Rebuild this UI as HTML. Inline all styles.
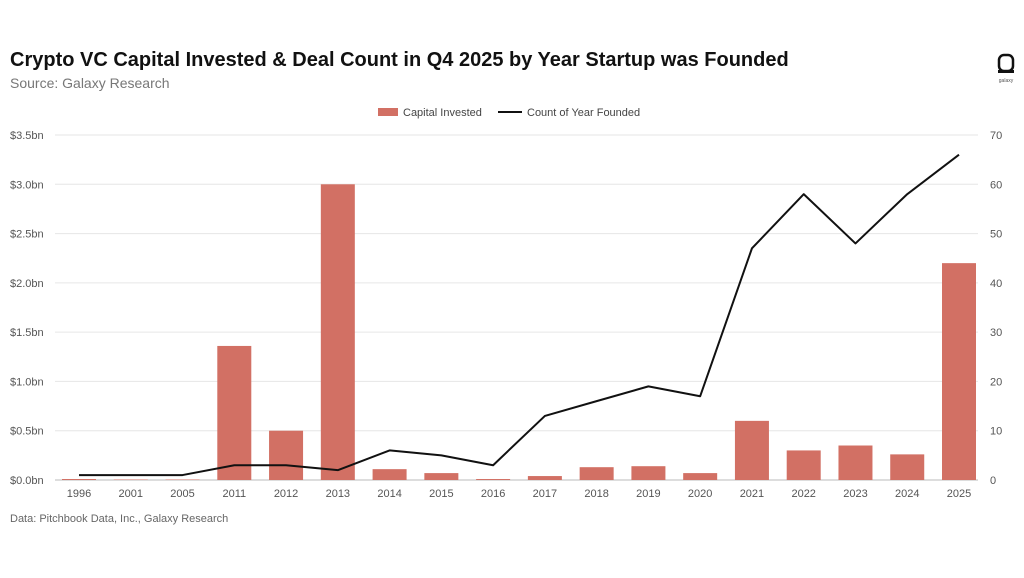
<!DOCTYPE html>
<html><head><meta charset="utf-8"><style>
body{margin:0;background:#fff;width:1024px;height:573px;overflow:hidden;font-family:"Liberation Sans",sans-serif}
</style></head><body>
<svg width="1024" height="573" xmlns="http://www.w3.org/2000/svg" id="chart">
<text x="10" y="66" font-size="20" font-weight="bold" fill="#111">Crypto VC Capital Invested &amp; Deal Count in Q4 2025 by Year Startup was Founded</text>
<text x="10" y="88" font-size="14" fill="#777">Source: Galaxy Research</text>
<g>
<rect x="999" y="55" width="14" height="16" rx="5" fill="none" stroke="#111" stroke-width="2.5"/>
<rect x="998" y="70" width="16" height="3" fill="#111"/>
<text x="1006" y="82" font-size="5" text-anchor="middle" fill="#555">galaxy</text>
</g>
<g>
<rect x="378" y="108" width="20" height="8" fill="#d27064"/>
<text x="403" y="116" font-size="11" fill="#444">Capital Invested</text>
<line x1="498" y1="112" x2="522" y2="112" stroke="#111" stroke-width="2"/>
<text x="527" y="116" font-size="11" fill="#444">Count of Year Founded</text>
</g>
<g id="grid"></g><g id="bars"></g><g id="line"></g><g id="axes"></g>
<text x="10" y="522" font-size="11" fill="#666">Data: Pitchbook Data, Inc., Galaxy Research</text>
</svg>
<script>
const categories=["1996","2001","2005","2011","2012","2013","2014","2015","2016","2017","2018","2019","2020","2021","2022","2023","2024","2025"];
const capital=[0.01,0.005,0.005,1.36,0.5,3.0,0.11,0.07,0.01,0.04,0.13,0.14,0.07,0.6,0.3,0.35,0.26,2.2];
const counts=[1,1,1,3,3,2,6,5,3,13,16,19,17,47,58,48,58,66];
const leftTicks=["$0.0bn","$0.5bn","$1.0bn","$1.5bn","$2.0bn","$2.5bn","$3.0bn","$3.5bn"];
const rightTicks=[0,10,20,30,40,50,60,70];
const NS="http://www.w3.org/2000/svg";
const x0=79,x1=959,yB=480,yT=135;
const xs=i=>x0+i*(x1-x0)/(categories.length-1);
const yL=v=>yB-v/3.5*(yB-yT);
const yR=v=>yB-v/70*(yB-yT);
function mk(t,a,p){const e=document.createElementNS(NS,t);for(const k in a)e.setAttribute(k,a[k]);p.appendChild(e);return e;}
const grid=document.getElementById('grid'),axes=document.getElementById('axes');
leftTicks.forEach((t,i)=>{
 const y=yL(i*0.5);
 const g=mk('line',{x1:55,x2:978,y1:y,y2:y,stroke:i?'#e6e6e6':'#bbb','stroke-width':1},grid);
 
 
 const l=mk('text',{x:10,y:y+4,'font-size':11,fill:'#555'},axes);l.textContent=t;
 
 
});
rightTicks.forEach(v=>{
 const r=mk('text',{x:990,y:yR(v)+4,'font-size':11,fill:'#555'},axes);r.textContent=v;
 
 
});
const bars=document.getElementById('bars');
categories.forEach((c,i)=>{
 const h=yB-yL(capital[i]);
 const b=mk('rect',{x:xs(i)-17,y:yL(capital[i]),width:34,height:h,fill:'#d27064'},bars);
 
 
 const t=mk('text',{x:xs(i),y:497,'font-size':11,fill:'#555','text-anchor':'middle'},axes);t.textContent=c;
 
 
});
const p=mk('polyline',{points:counts.map((v,i)=>xs(i)+','+yR(v)).join(' '),fill:'none',stroke:'#111','stroke-width':2,'stroke-linejoin':'round'},document.getElementById('line'));


</script>
</body></html>
